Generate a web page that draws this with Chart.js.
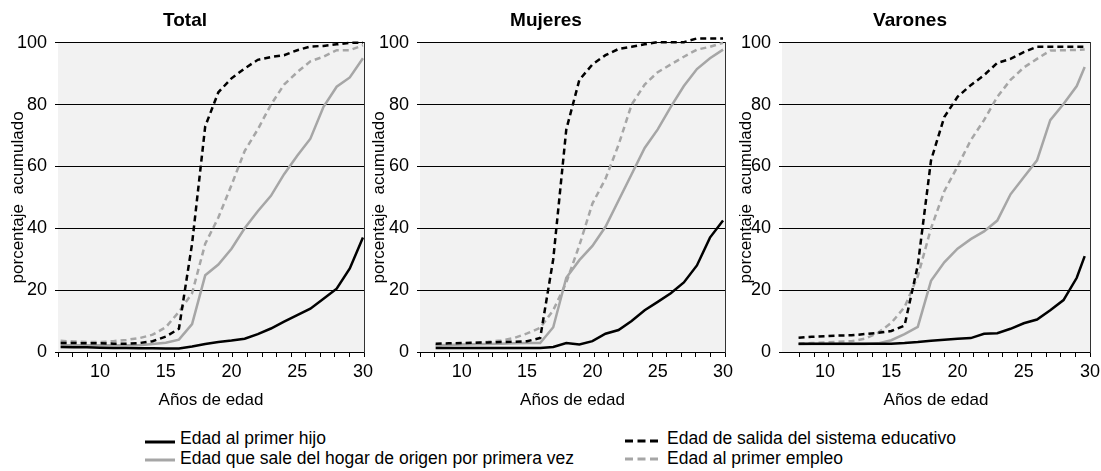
<!DOCTYPE html>
<html><head><meta charset="utf-8">
<script src="https://cdn.jsdelivr.net/npm/chart.js@4/dist/chart.umd.min.js"></script>
<style>
html,body{margin:0;padding:0;background:#fff;}
#wrap{position:relative;width:1101px;height:471px;overflow:hidden;font-family:"Liberation Sans",Arial,sans-serif;}
canvas{position:absolute;left:0;top:0;}
.sw{position:absolute;}
.lt{position:absolute;font-size:17.5px;line-height:20px;color:#000;white-space:nowrap;}
</style></head>
<body><div id="wrap">
<canvas id="c1" width="1101" height="415"></canvas>
<canvas id="c2" width="1101" height="415"></canvas>
<canvas id="c3" width="1101" height="415"></canvas>
<div id="legend"></div>
</div>
<script>
// ---- data ----
const panelTitles = ['Total', 'Mujeres', 'Varones'];
const seriesNames = ['Edad al primer hijo', 'Edad que sale del hogar de origen por primera vez', 'Edad de salida del sistema educativo', 'Edad al primer empleo'];
const xTickLabels = [10, 15, 20, 25, 30];
const yTickLabels = [0, 20, 40, 60, 80, 100];
const xTitle = 'Años de edad';
const yTitle = 'porcentaje  acumulado';

const agesTotal = [7,8,9,10,11,12,13,14,15,16,17,18,19,20,21,22,23,24,25,26,27,28,29,30];
const totalHijo = [1.6,1.5,1.5,1.4,1.3,1.3,1.2,1.2,1.1,1.1,1.8,2.6,3.2,3.7,4.3,5.8,7.6,9.8,11.9,14,17.2,20.5,27,37];
const totalHogar = [2.2,2.2,2.2,2.2,2.2,2.2,2.2,2.6,3.0,4.0,9,24.8,28.3,33.4,40,45.5,50.5,57.5,63.5,69,79.3,85.8,88.8,95];
const totalEducativo = [2.9,2.9,2.8,2.8,2.7,2.7,2.9,3.5,5,7.5,35,73,84,88.5,91.7,94.5,95.4,96,97.6,98.8,99,99.5,100,100];
const totalEmpleo = [3.6,3.4,3.2,3.2,3.5,3.9,4.5,5.6,8,13,19,35,43.5,54,65,72,80,86.5,90.5,94,95.5,97.6,97.6,99.2];

const agesMujeres = [8,9,10,11,12,13,14,15,16,17,18,19,20,21,22,23,24,25,26,27,28,29,30];
const mujeresHijo = [1.3,1.3,1.3,1.3,1.3,1.3,1.3,1.3,1.3,1.6,2.9,2.4,3.5,5.9,7.1,10,13.5,16.2,19,22.5,28,37,42.5];
const mujeresHogar = [2.2,2.3,2.4,2.5,2.6,2.7,2.8,2.9,2.9,8,24,29.7,34.3,40.5,49,57.5,66,72,79.3,86,91.5,95,97.8];
const mujeresEducativo = [2.7,2.8,2.9,3.0,3.1,3.2,3.3,3.5,4.5,30,72,88,93,96,98,98.7,99.5,100.2,100.2,100.2,101.4,101.4,101.4];
const mujeresEmpleo = [2.2,2.4,2.7,3.0,3.3,3.7,4.5,6,7.8,13.5,22.5,34.5,48,56,67,80,86.5,90.5,93,95.5,97.8,98.7,100];

const agesVarones = [8,9,10,11,12,13,14,15,16,17,18,19,20,21,22,23,24,25,26,27,28,29,29.6];
const varonesHijo = [2.7,2.7,2.7,2.7,2.7,2.7,2.7,2.7,2.9,3.2,3.6,4,4.3,4.5,5.9,6.1,7.5,9.3,10.5,13.5,16.8,24,31];
const varonesHogar = [2.5,2.6,2.6,2.6,2.6,2.6,2.8,3.8,5.8,8.1,23,29,33.4,36.5,39,42.5,51,56.5,62,75,80.2,86,92.2];
const varonesEducativo = [4.6,4.9,5.1,5.3,5.4,5.8,6.2,6.8,8.5,28,62,76,82.5,86.3,89.5,93.5,94.8,97,98.7,98.7,98.7,98.7,98.7];
const varonesEmpleo = [2.7,2.9,3.1,3.3,3.5,4.3,6.2,9.4,14.5,24.5,40,52,60,68.5,75,82.5,88,92,94.8,97.5,97.6,97.7,97.8];

// ---- styles ----
const BLACK = '#000000', GRAY = '#a6a6a6';
const seriesStyle = [
  {color: BLACK, dash: []},
  {color: GRAY, dash: []},
  {color: BLACK, dash: [6, 4]},
  {color: GRAY, dash: [6, 4]}
];

Chart.defaults.font.family = '"Liberation Sans", Arial, sans-serif';
Chart.defaults.color = '#000';

const bgPlugin = {
  id: 'plotBg',
  beforeDraw(chart) {
    const {ctx, chartArea: a} = chart;
    ctx.save();
    ctx.fillStyle = '#f2f2f2';
    ctx.fillRect(a.left, a.top, a.right - a.left, a.bottom - a.top);
    ctx.restore();
  }
};

function pts(ages, vals) { return ages.map((a, i) => ({x: a, y: vals[i]})); }

function makePanel(id, title, ages, series, g) {
  const order = [0, 2, 1, 3];
  const datasets = order.map(k => ({
    label: seriesNames[k],
    data: pts(ages, series[k]),
    borderColor: seriesStyle[k].color,
    borderDash: seriesStyle[k].dash,
    borderWidth: 2.5,
    pointRadius: 0,
    tension: 0,
    clip: false,
    xAxisID: 'x', yAxisID: 'y'
  }));
  const marks = [];
  for (let v = g.markFrom; v <= g.markTo; v++) marks.push(v);
  new Chart(document.getElementById(id), {
    type: 'line',
    data: {datasets},
    plugins: [bgPlugin],
    options: {
      responsive: false, animation: false, devicePixelRatio: 1,
      layout: {padding: {left: g.padL, right: g.padR, top: 0, bottom: 4}},
      plugins: {
        legend: {display: false}, tooltip: {enabled: false},
        title: {display: true, text: title, color: '#000', font: {size: 19, weight: 'bold'}, padding: {top: 9, bottom: 11}}
      },
      scales: {
        x: {
          type: 'linear', position: 'bottom', weight: 1, min: g.xMin, max: g.xMax,
          afterBuildTicks: s => { s.ticks = xTickLabels.map(v => ({value: v})); },
          ticks: {autoSkip: false, maxRotation: 0, padding: 4, font: {size: 18}, color: '#000', callback: v => String(v)},
          grid: {display: false, drawTicks: false},
          border: {display: false},
          title: {display: true, text: xTitle, color: '#000', font: {size: 17}, padding: {top: 0, bottom: 0}},
          afterFit: s => { s.height = 54; s.paddingLeft = 0; s.paddingRight = 0; }
        },
        xt: {
          type: 'linear', position: 'bottom', weight: 0, min: g.tMin, max: g.tMax,
          afterBuildTicks: s => { s.ticks = marks.map(v => ({value: v})); },
          ticks: {display: false},
          grid: {display: true, drawOnChartArea: false, drawTicks: true, tickLength: 5, color: '#000', lineWidth: 1},
          border: {display: true, color: '#000', width: 1},
          afterFit: s => { s.height = 5; s.paddingLeft = 0; s.paddingRight = 0; }
        },
        y: {
          type: 'linear', position: 'left', min: 0, max: 100,
          afterBuildTicks: s => { s.ticks = yTickLabels.map(v => ({value: v})); },
          ticks: {font: {size: 18}, color: '#000', padding: 8},
          grid: {color: '#000', lineWidth: 1, tickLength: 3, drawTicks: true},
          border: {display: false},
          title: {display: true, text: yTitle, color: '#000', font: {size: 17}, padding: {top: g.yTitlePad, bottom: 0}},
          afterFit: s => { s.width = g.wY; s.paddingTop = 0; s.paddingBottom = 0; }
        },
        yr: {
          type: 'linear', position: 'right', min: 0, max: 100,
          ticks: {display: false},
          grid: {display: false, drawTicks: false},
          border: {display: true, color: '#333', width: 1},
          afterFit: s => { s.width = g.wR; s.paddingTop = 0; s.paddingBottom = 0; }
        }
      }
    }
  });
}

makePanel('c1', panelTitles[0], agesTotal, [totalHijo, totalHogar, totalEducativo, totalEmpleo],
  {padL: 0, wY: 58, padR: 731, wR: 6, xMin: 6.8, xMax: 30.08, tMin: 0, tMax: 21, markFrom: 0, markTo: 21, yTitlePad: 8});
makePanel('c2', panelTitles[1], agesMujeres, [mujeresHijo, mujeresHogar, mujeresEducativo, mujeresEmpleo],
  {padL: 362, wY: 58, padR: 371, wR: 5, xMin: 6.8, xMax: 30.15, tMin: 0, tMax: 21, markFrom: 0, markTo: 21, yTitlePad: 7});
makePanel('c3', panelTitles[2], agesVarones, [varonesHijo, varonesHogar, varonesEducativo, varonesEmpleo],
  {padL: 730, wY: 52, padR: 11, wR: 0, xMin: 6.75, xMax: 30, tMin: -1.24, tMax: 20, markFrom: 0, markTo: 20, yTitlePad: 5.8});

// ---- legend (HTML) ----
const legendPos = [
  {sx: 145, tx: 180, cy: 438, ly: 442},
  {sx: 145, tx: 180, cy: 458, ly: 460},
  {sx: 625, tx: 667, cy: 438, ly: 441},
  {sx: 625, tx: 667, cy: 458, ly: 459}
];
const leg = document.getElementById('legend');
seriesNames.forEach((name, k) => {
  const p = legendPos[k], st = seriesStyle[k];
  const w = k < 2 ? 30 : 33;
  const svg = document.createElementNS('http://www.w3.org/2000/svg', 'svg');
  svg.setAttribute('width', w); svg.setAttribute('height', 6);
  svg.setAttribute('class', 'sw');
  svg.style.left = p.sx + 'px'; svg.style.top = (p.ly - 3) + 'px';
  const ln = document.createElementNS('http://www.w3.org/2000/svg', 'line');
  ln.setAttribute('x1', 0); ln.setAttribute('x2', w); ln.setAttribute('y1', 3); ln.setAttribute('y2', 3);
  ln.setAttribute('stroke', st.color); ln.setAttribute('stroke-width', 3);
  if (st.dash.length) ln.setAttribute('stroke-dasharray', '8 4.5');
  svg.appendChild(ln);
  leg.appendChild(svg);
  const t = document.createElement('div');
  t.className = 'lt';
  t.textContent = name;
  t.style.left = p.tx + 'px'; t.style.top = (p.cy - 10) + 'px';
  leg.appendChild(t);
});
</script>
</body></html>
